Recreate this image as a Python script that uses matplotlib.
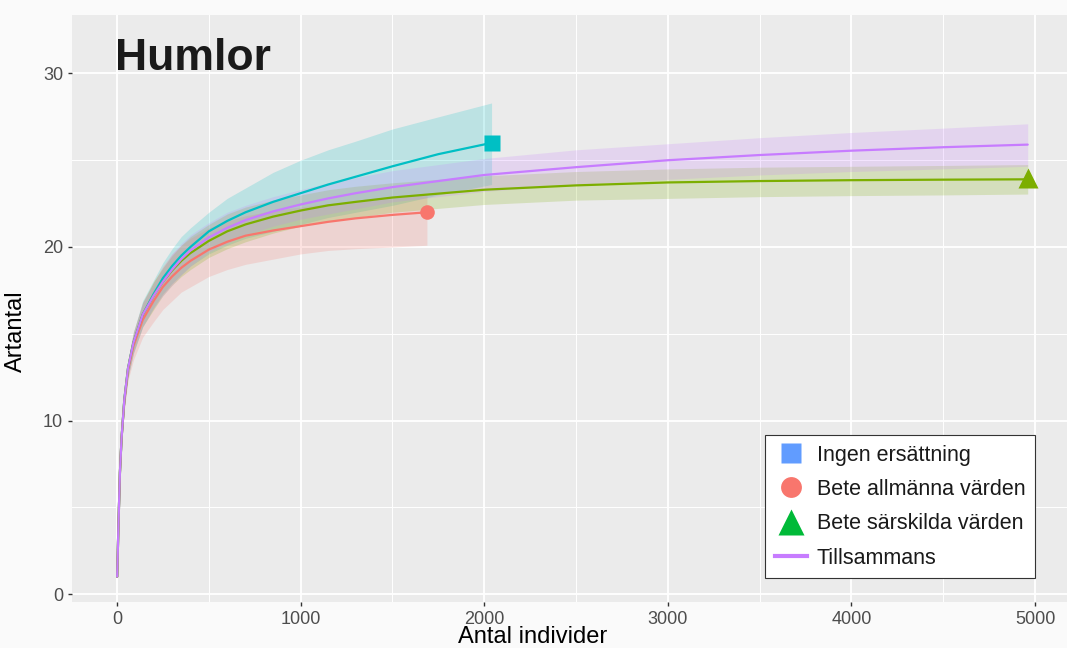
import matplotlib
matplotlib.use("Agg")
import matplotlib.pyplot as plt
from matplotlib.lines import Line2D

plt.rcParams['font.family'] = ['Liberation Sans', 'DejaVu Sans']

# Ingen ersättning (teal curve)
ingen_x = [1, 8, 16, 25, 40, 60, 90, 140, 200, 250, 300, 350, 400, 500, 600, 700, 850, 1000,
           1150, 1300, 1500, 1750, 2040]
ingen_y = [1.0, 4.0, 7.0, 9.0, 11.2, 13.0, 14.5, 16.1, 17.3, 18.2, 18.9, 19.5, 20.0, 20.9, 21.5, 22.0,
           22.6, 23.1, 23.6, 24.05, 24.65, 25.35, 26.0]
ingen_lo = [1.0, 3.9, 6.8, 8.7, 10.8, 12.5, 13.9, 15.4, 16.5, 17.3, 17.9, 18.4, 18.9, 19.6, 20.1, 20.5,
            20.9, 21.3, 21.7, 22.0, 22.4, 23.0, 23.6]
ingen_hi = [1.0, 4.1, 7.2, 9.3, 11.6, 13.5, 15.1, 16.9, 18.1, 19.1, 19.9, 20.6, 21.1, 22.0, 22.8, 23.4,
            24.3, 25.0, 25.6, 26.1, 26.8, 27.5, 28.3]

# Bete allmänna värden (red curve)
allm_x = [1, 8, 16, 25, 40, 60, 90, 140, 200, 250, 300, 350, 400, 500, 600, 700, 850, 1000,
          1150, 1300, 1500, 1688]
allm_y = [1.0, 4.0, 7.0, 9.0, 11.1, 12.9, 14.3, 15.8, 16.9, 17.7, 18.3, 18.8, 19.2, 19.85, 20.3, 20.65,
          20.95, 21.2, 21.45, 21.65, 21.85, 22.0]
allm_lo = [1.0, 3.9, 6.7, 8.6, 10.6, 12.3, 13.5, 14.8, 15.7, 16.4, 16.9, 17.4, 17.7, 18.3, 18.7, 19.0,
           19.3, 19.6, 19.8, 19.9, 20.0, 20.1]
allm_hi = [1.0, 4.1, 7.3, 9.4, 11.6, 13.5, 15.1, 16.8, 18.0, 18.9, 19.6, 20.1, 20.5, 21.1, 21.5, 21.8,
           22.1, 22.3, 22.5, 22.6, 22.8, 23.0]

# Bete särskilda värden (olive curve)
sarsk_x = [1, 8, 16, 25, 40, 60, 90, 140, 200, 250, 300, 350, 400, 500, 600, 700, 850, 1000,
           1150, 1300, 1500, 2000, 2500, 3000, 3500, 4000, 4500, 4960]
sarsk_y = [1.0, 4.0, 7.0, 9.0, 11.2, 13.0, 14.5, 16.1, 17.2, 18.0, 18.65, 19.2, 19.65, 20.35, 20.9, 21.3,
           21.75, 22.1, 22.4, 22.6, 22.85, 23.3, 23.55, 23.72, 23.8, 23.85, 23.88, 23.9]
sarsk_lo = [1.0, 3.9, 6.8, 8.7, 10.8, 12.5, 13.9, 15.4, 16.4, 17.2, 17.8, 18.3, 18.7, 19.4, 19.9, 20.3,
            20.8, 21.2, 21.5, 21.7, 22.0, 22.45, 22.7, 22.8, 22.9, 22.96, 23.0, 23.05]
sarsk_hi = [1.0, 4.1, 7.2, 9.3, 11.6, 13.5, 15.1, 16.8, 18.0, 18.8, 19.5, 20.1, 20.6, 21.3, 21.9, 22.3,
            22.7, 23.0, 23.3, 23.5, 23.7, 24.1, 24.35, 24.5, 24.6, 24.65, 24.7, 24.75]

# Tillsammans (purple curve)
alla_x = [1, 8, 16, 25, 40, 60, 90, 140, 200, 250, 300, 350, 400, 500, 600, 700, 850, 1000,
          1150, 1300, 1500, 2000, 2500, 3000, 3500, 4000, 4500, 4960]
alla_y = [1.0, 4.0, 7.0, 9.0, 11.2, 13.0, 14.5, 16.1, 17.2, 18.0, 18.7, 19.3, 19.8, 20.55, 21.1, 21.55,
          22.05, 22.45, 22.8, 23.1, 23.45, 24.15, 24.6, 25.0, 25.3, 25.55, 25.75, 25.9]
alla_lo = [1.0, 3.9, 6.8, 8.7, 10.8, 12.5, 13.9, 15.4, 16.5, 17.2, 17.8, 18.4, 18.9, 19.7, 20.2, 20.7,
           21.2, 21.6, 21.9, 22.2, 22.6, 23.2, 23.6, 23.9, 24.15, 24.35, 24.5, 24.65]
alla_hi = [1.0, 4.1, 7.2, 9.3, 11.6, 13.5, 15.1, 16.8, 17.9, 18.8, 19.6, 20.2, 20.7, 21.4, 22.0, 22.4,
           22.9, 23.3, 23.7, 24.0, 24.4, 25.1, 25.6, 25.95, 26.3, 26.6, 26.85, 27.1]

legend_labels = ['Ingen ersättning', 'Bete allmänna värden', 'Bete särskilda värden', 'Tillsammans']
x_ticks = [0, 1000, 2000, 3000, 4000, 5000]
y_ticks = [0, 10, 20, 30]

fig = plt.figure(figsize=(10.67, 6.48), dpi=100, facecolor='#FAFAFA')
ax = fig.add_axes([72/1067, 1 - 602/648, 995/1067, 587/648])
ax.set_facecolor('#EBEBEB')
for s in ax.spines.values():
    s.set_visible(False)

ax.set_xlim(-245, 5174)
ax.set_ylim(-0.46, 33.37)
ax.set_xticks(x_ticks)
ax.set_yticks(y_ticks)
ax.set_xticks([500, 1500, 2500, 3500, 4500], minor=True)
ax.set_yticks([5, 15, 25], minor=True)
ax.grid(which='major', color='white', lw=1.3)
ax.grid(which='minor', color='white', lw=0.7)
ax.set_axisbelow(True)
ax.tick_params(which='major', length=3, width=1, color='#333333', labelcolor='#4D4D4D', labelsize=13)
ax.tick_params(which='minor', length=0)

# ribbons
ax.fill_between(ingen_x, ingen_lo, ingen_hi, color='#00BFC4', alpha=0.2, lw=0)
ax.fill_between(allm_x, allm_lo, allm_hi, color='#F8766D', alpha=0.2, lw=0)
ax.fill_between(sarsk_x, sarsk_lo, sarsk_hi, color='#7CAE00', alpha=0.2, lw=0)
ax.fill_between(alla_x, alla_lo, alla_hi, color='#C77CFF', alpha=0.2, lw=0)

# curves
ax.plot(ingen_x, ingen_y, color='#00BFC4', lw=1.6, solid_capstyle='round', solid_joinstyle='round')
ax.plot(allm_x, allm_y, color='#F8766D', lw=1.6, solid_capstyle='round', solid_joinstyle='round')
ax.plot(sarsk_x, sarsk_y, color='#7CAE00', lw=1.6, solid_capstyle='round', solid_joinstyle='round')
ax.plot(alla_x, alla_y, color='#C77CFF', lw=1.6, solid_capstyle='round', solid_joinstyle='round')

# end points
ax.plot(ingen_x[-1], ingen_y[-1], marker='s', ms=11, color='#00BFC4', mec='none')
ax.plot(allm_x[-1], allm_y[-1], marker='o', ms=10.5, color='#F8766D', mec='none')
ax.plot(sarsk_x[-1], sarsk_y[-1] + 0.1, marker='^', ms=14, color='#7CAE00', mec='none')

ax.text(0.043, 0.906, 'Humlor', transform=ax.transAxes, fontsize=32, fontweight='bold',
        color='#1A1A1A', va='baseline', ha='left')

ax.set_xlabel('Antal individer', fontsize=17, color='black')
ax.xaxis.set_label_coords(0.463, -0.041)
ax.xaxis.label.set_va('top')
ax.set_ylabel('Artantal', fontsize=17, color='black')
ax.yaxis.set_label_coords(-0.045, 0.462)

handles = [
    Line2D([], [], ls='none', marker='s', ms=14, mfc='#619CFF', mec='none'),
    Line2D([], [], ls='none', marker='o', ms=15, mfc='#F8766D', mec='none'),
    Line2D([], [], ls='none', marker='^', ms=19, mfc='#00BA38', mec='none'),
    Line2D([], [], color='#C77CFF', lw=3),
]
leg = ax.legend(handles, legend_labels, loc='upper left', bbox_to_anchor=(0.6965, 0.2845),
                fontsize=15.5, frameon=True, fancybox=False, framealpha=1, facecolor='white',
                edgecolor='#333333', labelspacing=0.62, handlelength=1.5, handletextpad=0.45,
                borderpad=0.45, borderaxespad=0)
leg.get_frame().set_linewidth(0.8)
for t in leg.get_texts():
    t.set_color('#1A1A1A')

fig.savefig('out.png', dpi=100, facecolor=fig.get_facecolor())
